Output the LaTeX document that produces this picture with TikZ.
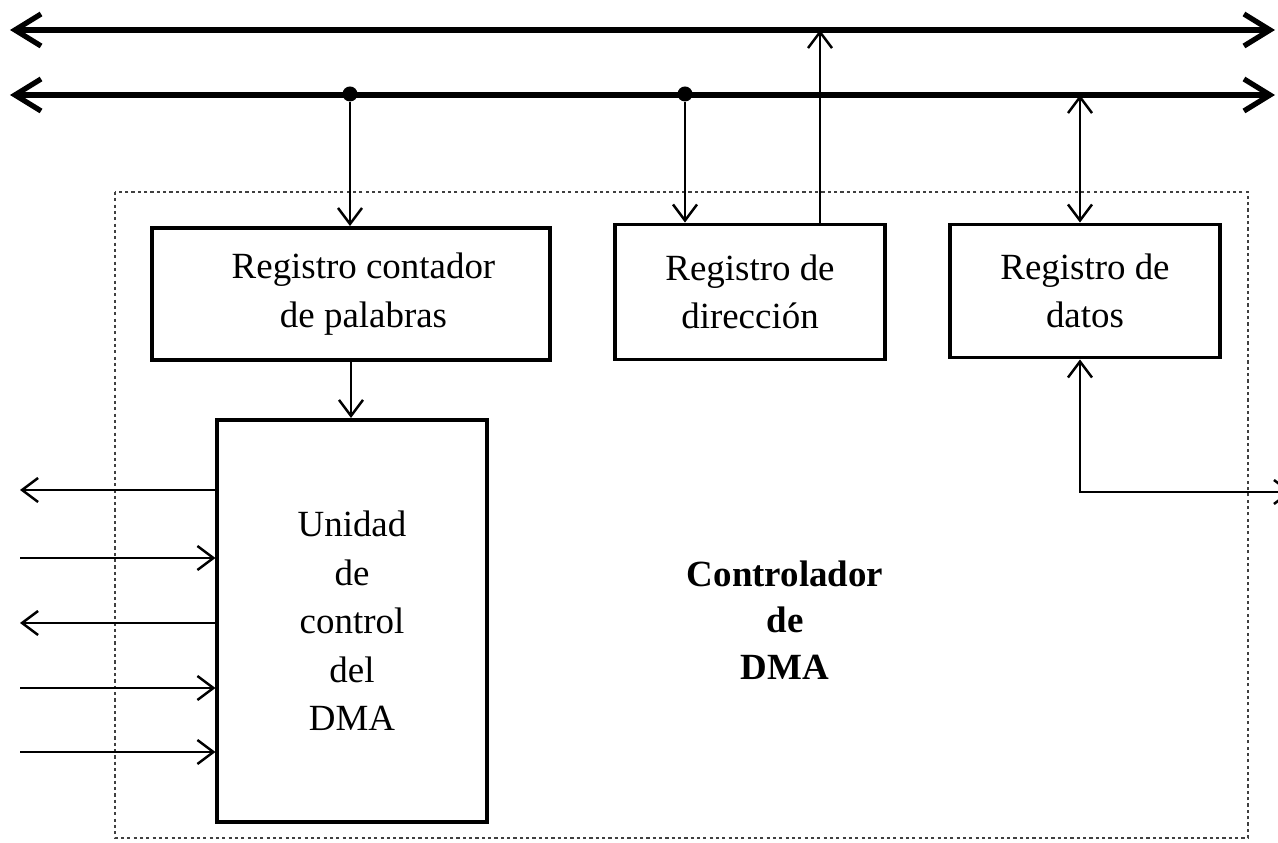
\documentclass[tikz,border=0pt]{standalone}
\usepackage{fontspec}
\setmainfont{Liberation Serif}
\usetikzlibrary{arrows.meta}

\begin{document}
\begin{tikzpicture}[
    x=0.01cm, y=-0.01cm,
    reg/.style={draw, line width=1.1pt, inner sep=0pt, align=center,
        font=\fontsize{10.5}{13.8}\selectfont},
    bus/.style={line width=1.5pt, {Straight Barb[length=2.6mm, width=3.2mm]}-{Straight Barb[length=2.6mm, width=3.2mm]}},
    sig/.style={line width=0.7pt, arrows={-Straight Barb[length=1.6mm, width=2.4mm]}},
    bidir/.style={sig, {Straight Barb[length=1.6mm, width=2.4mm]}-{Straight Barb[length=1.6mm, width=2.4mm]}},
    dot/.style={circle, fill, inner sep=0pt, minimum size=1.5mm}
]
    \useasboundingbox (0,0) rectangle (1278,843);
    \clip (0,0) rectangle (1278,843);

    % Buses (top)
    \coordinate (bus1w) at (10,30);
    \coordinate (bus1e) at (1275,30);
    \coordinate (bus2w) at (10,95);
    \coordinate (bus2e) at (1275,95);
    \draw[bus] (bus1w) -- (bus1e);
    \draw[bus] (bus2w) -- (bus2e);
    \node[dot] (d1) at (350,94) {};
    \node[dot] (d2) at (685,94) {};
    \coordinate (a2) at (820,30);
    \coordinate (a3) at (1080,95);

    % DMA controller frame
    \draw[line width=0.5pt, black!75, dash pattern=on 0.9pt off 0.9pt] (115,192) rectangle (1248,838);

    % Registers
    \node[reg, minimum width=3.98cm, minimum height=1.32cm] (b1) at (351,294) {\hspace*{0.25cm}Registro contador\\\hspace*{0.25cm}de palabras};
    \node[reg, minimum width=2.7cm, minimum height=1.35cm] (b2) at (750,292) {Registro de\\dirección};
    \node[reg, minimum width=2.7cm, minimum height=1.33cm] (b3) at (1085,291) {Registro de\\datos};
    \node[reg, minimum width=2.69cm, minimum height=4.02cm] (b4) at (352,621) {Unidad\\de\\control\\del\\DMA};
    \node[font=\fontsize{10.5}{13.2}\selectfont\bfseries, align=center] (ctl) at (785,620) {Controlador\\de\\DMA};

    % Connections to the buses
    \draw[sig] (d1) -- (d1 |- b1.north);
    \draw[sig] (d2) -- (d2 |- b2.north);
    \draw[sig] (a2 |- b2.north) -- (a2);
    \draw[bidir] (a3) -- (a3 |- b3.north);
    \draw[sig] (b1.south) -- (b1.south |- b4.north);

    % Control lines (left)
    \coordinate (l1) at (20,490);
    \coordinate (l2) at (20,558);
    \coordinate (l3) at (20,623);
    \coordinate (l4) at (20,688);
    \coordinate (l5) at (20,752);
    \draw[sig] (l1 -| b4.west) -- (l1);
    \draw[sig] (l2) -- (l2 -| b4.west);
    \draw[sig] (l3 -| b4.west) -- (l3);
    \draw[sig] (l4) -- (l4 -| b4.west);
    \draw[sig] (l5) -- (l5 -| b4.west);

    % Data line (right)
    \coordinate (r1) at (1292,492);
    \draw[bidir] (r1) -| (a3 |- b3.south);
\end{tikzpicture}
\end{document}
